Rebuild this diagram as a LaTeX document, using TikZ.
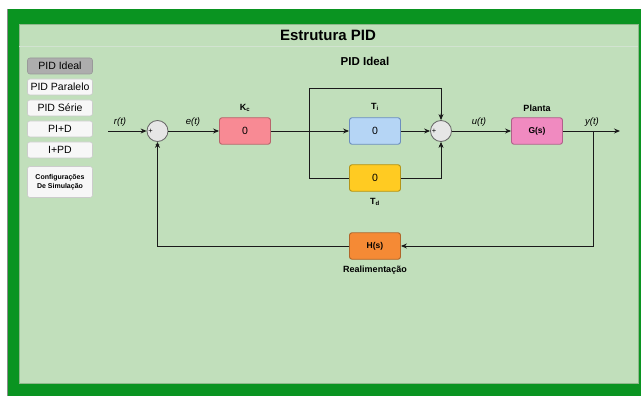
\documentclass[tikz,border=0pt]{standalone}
\usepackage{fontspec}
\setmainfont{Liberation Sans}
\usetikzlibrary{arrows.meta}
\definecolor{outergreen}{HTML}{0A9421}
\definecolor{innergreen}{HTML}{C1DFBB}
\definecolor{innerborder}{HTML}{8FB98B}
\definecolor{btnfill}{HTML}{F7F7F7}
\definecolor{btnline}{HTML}{CCCCCC}
\definecolor{btnsel}{HTML}{ADADAD}
\definecolor{btnselline}{HTML}{999999}
\definecolor{sumfill}{HTML}{E6E6E6}
\definecolor{kcfill}{HTML}{F88A94}
\definecolor{kcline}{HTML}{B8646B}
\definecolor{tifill}{HTML}{B5D5F5}
\definecolor{tiline}{HTML}{6C8EBF}
\definecolor{tdfill}{HTML}{FFCB22}
\definecolor{tdline}{HTML}{B39417}
\definecolor{gsfill}{HTML}{F08AC0}
\definecolor{gsline}{HTML}{B0608A}
\definecolor{hsfill}{HTML}{F58A35}
\definecolor{hsline}{HTML}{B0652A}
\definecolor{wire}{HTML}{1A1A1A}
\tikzset{
  blockbox/.style={rectangle, rounded corners=2.5pt, minimum width=51pt, minimum height=26.5pt, inner sep=0pt, line width=0.9pt, font=\fontsize{10.5}{12}\selectfont},
  btnbox/.style={rectangle, rounded corners=2.5pt, minimum width=65pt, minimum height=16pt, inner sep=0pt, fill=btnfill, draw=btnline, line width=0.6pt, font=\fontsize{10.5}{12}\selectfont},
  sumnode/.style={circle, minimum size=21pt, inner sep=0pt, fill=sumfill, draw=black!60, line width=0.8pt},
  signlbl/.style={font=\fontsize{7.5}{7.5}\selectfont, inner sep=0pt},
  lbl/.style={font=\bfseries\fontsize{9}{10}\selectfont, inner sep=0pt},
  siglbl/.style={font=\itshape\fontsize{9.5}{10}\selectfont, inner sep=0pt},
  wireline/.style={draw=wire, line width=0.9pt},
  arr/.style={wireline, -{Stealth[length=6pt,width=5pt]}}
}
\begin{document}
\begin{tikzpicture}[x=1pt,y=-1pt]
\useasboundingbox (0,0) rectangle (641,396);
\fill[white] (0,0) rectangle (641,396);
\fill[outergreen] (8,9) rectangle (641,396);
\draw[black!45, line width=1pt] (7.5,9) -- (7.5,396);
\filldraw[fill=innergreen, draw=innerborder, line width=0.8pt] (19,24) rectangle (638,383);
\draw[innerborder!40, line width=0.5pt] (19,46) -- (638,46);
\node[font=\bfseries\fontsize{15}{18}\selectfont, inner sep=0pt] (title) at (328,35) {Estrutura PID};

% buttons
\node[btnbox, fill=btnsel, draw=btnselline] (b1) at (60,66) {PID Ideal};
\node[btnbox] (b2) at (60,87) {PID Paralelo};
\node[btnbox] (b3) at (60,108) {PID Série};
\node[btnbox] (b4) at (60,129) {PI+D};
\node[btnbox] (b5) at (60,150) {I+PD};
\node[btnbox, minimum height=31pt, align=center, font=\bfseries\fontsize{7}{8.5}\selectfont] (b6) at (60,182) {Configurações\\De Simulação};

% diagram heading
\node[font=\bfseries\fontsize{11.5}{13}\selectfont, inner sep=0pt] (head) at (365,61) {PID Ideal};

% blocks
\node[sumnode] (s1) at (157.5,131) {};
\node[signlbl] (s1p) at ([xshift=4pt]s1.west) {+};
\node[signlbl] (s1m) at ([yshift=-4pt]s1.south) {\textminus};
\node[blockbox, fill=kcfill, draw=kcline] (kc) at (245,131) {0};
\node[lbl] (kcl) at (245,108) {K\textsubscript{c}};
\node[blockbox, fill=tifill, draw=tiline] (ti) at (375,131) {0};
\node[lbl] (til) at (375,107) {T\textsubscript{i}};
\node[blockbox, fill=tdfill, draw=tdline] (td) at (375,178) {0};
\node[lbl] (tdl) at (375,202) {T\textsubscript{d}};
\node[sumnode] (s2) at (441,131) {};
\node[signlbl] (s2t) at ([yshift=4pt]s2.north) {+};
\node[signlbl] (s2l) at ([xshift=4pt]s2.west) {+};
\node[signlbl] (s2b) at ([yshift=-4pt]s2.south) {+};
\node[blockbox, fill=gsfill, draw=gsline, font=\bfseries\fontsize{8.5}{10}\selectfont] (gs) at (537,131) {G(s)};
\node[lbl] (gsl) at (537,108) {Planta};
\node[blockbox, fill=hsfill, draw=hsline, font=\bfseries\fontsize{8.5}{10}\selectfont] (hs) at (375,246) {H(s)};
\node[lbl] (hsl) at (375,270) {Realimentação};

% signal labels
\node[siglbl] (rl) at (120,122) {r(t)};
\node[siglbl] (el) at (193,122) {e(t)};
\node[siglbl] (ul) at (479,122) {u(t)};
\node[siglbl] (yl) at (592,122) {y(t)};

% coordinates
\coordinate (rin) at (108,131);
\coordinate (split) at (309,131);
\coordinate (topl) at (309,88);
\coordinate (branch) at (593,131);
\coordinate (yout) at (620,131);

% wires
\draw[arr] (rin) -- (s1);
\draw[arr] (s1) -- (kc);
\draw[wireline] (kc) -- (split);
\draw[arr] (split) -- (ti);
\draw[arr] (split) -- (topl) -| (s2);
\draw[wireline] (split) |- (td);
\draw[arr] (td) -| (s2);
\draw[arr] (ti) -- (s2);
\draw[arr] (s2) -- (gs);
\draw[arr] (gs) -- (yout);
\draw[arr] (branch) |- (hs);
\draw[arr] (hs) -| (s1);
\end{tikzpicture}
\end{document}
